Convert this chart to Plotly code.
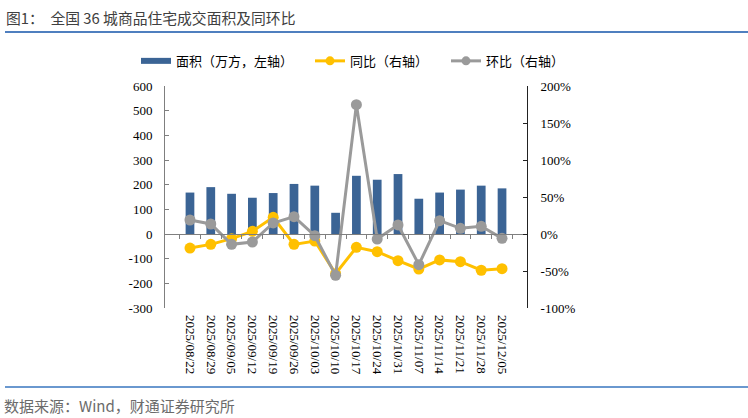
import plotly.graph_objects as go

dates = ["2025/08/22", "2025/08/29", "2025/09/05", "2025/09/12", "2025/09/19", "2025/09/26",
         "2025/10/03", "2025/10/10", "2025/10/17", "2025/10/24", "2025/10/31", "2025/11/07",
         "2025/11/14", "2025/11/21", "2025/11/28", "2025/12/05"]
area = [168, 190, 163, 147, 166, 203, 196, 86, 236, 220, 243, 143, 168, 180, 196, 185]
yoy = [-0.19, -0.14, -0.063, 0.036, 0.225, -0.14, -0.095, -0.536, -0.18, -0.239,
       -0.36, -0.473, -0.35, -0.374, -0.49, -0.468]
mom = [0.189, 0.135, -0.14, -0.108, 0.149, 0.234, -0.023, -0.559, 1.748, -0.068,
       0.122, -0.414, 0.18, 0.077, 0.104, -0.059]

left_ticks = [-300, -200, -100, 0, 100, 200, 300, 400, 500, 600]
left_labels = ["-300", "-200", "-100", "0", "100", "200", "300", "400", "500", "600"]
right_ticks = [-1.0, -0.5, 0.0, 0.5, 1.0, 1.5, 2.0]
right_labels = ["-100%", "-50%", "0%", "50%", "100%", "150%", "200%"]

BLUE = "#3b6495"
GOLD = "#FFC000"
GREY = "#9a9a9a"
SERIF = "Liberation Serif"
CJK = "Noto Sans CJK SC"

fig = go.Figure()
fig.add_trace(go.Bar(x=dates, y=area, marker=dict(color=BLUE, line=dict(width=0)),
                     width=0.42, showlegend=False, yaxis="y"))
fig.add_trace(go.Scatter(x=dates, y=yoy, mode="lines+markers", yaxis="y2",
                         line=dict(color=GOLD, width=3), marker=dict(color=GOLD, size=11),
                         showlegend=False))
fig.add_trace(go.Scatter(x=dates, y=mom, mode="lines+markers", yaxis="y2",
                         line=dict(color=GREY, width=3), marker=dict(color=GREY, size=11),
                         showlegend=False))
# legend proxies
fig.add_trace(go.Scatter(x=[None], y=[None], mode="lines", name="面积（万方，左轴）",
                         line=dict(color=BLUE, width=6), legend="legend"))
fig.add_trace(go.Scatter(x=[None], y=[None], mode="lines+markers", name="同比（右轴）",
                         line=dict(color=GOLD, width=3), marker=dict(color=GOLD, size=9),
                         legend="legend2"))
fig.add_trace(go.Scatter(x=[None], y=[None], mode="lines+markers", name="环比（右轴）",
                         line=dict(color=GREY, width=3), marker=dict(color=GREY, size=9),
                         legend="legend3"))
# invisible trace to carry the zero-line category axis
fig.add_trace(go.Scatter(x=dates, y=[None] * len(dates), xaxis="x2", yaxis="y",
                         showlegend=False, hoverinfo="skip"))

W, L = 362, 165
def px_x(p):
    return (p - L) / W

leg_common = dict(orientation="h", xanchor="left", y=1.113, yanchor="middle",
                  font=dict(family=CJK, size=13, color="#000"), itemwidth=30,
                  bgcolor="rgba(0,0,0,0)")

fig.update_layout(
    width=748, height=418,
    margin=dict(l=165, r=221, t=86, b=110),
    paper_bgcolor="white", plot_bgcolor="white",
    font=dict(family=SERIF, size=13, color="#000"),
    xaxis=dict(type="category", showline=False, showgrid=False, zeroline=False,
               ticks="", tickangle=90, tickfont=dict(family=SERIF, size=13),
               ticklabelstandoff=6),
    xaxis2=dict(type="category", matches="x", overlaying="x", anchor="free",
                position=1/3, showline=True, linecolor="#7f7f7f", linewidth=1,
                showgrid=False, zeroline=False, showticklabels=False,
                ticks="outside", tickson="boundaries", ticklen=4, tickcolor="#7f7f7f"),
    yaxis=dict(range=[-300, 600], tickvals=left_ticks, ticktext=left_labels,
               showgrid=False, zeroline=False,
               showline=True, linecolor="#7f7f7f", linewidth=1, ticks="inside",
               ticklen=4, tickcolor="#7f7f7f", ticklabelstandoff=9,
               tickfont=dict(family=SERIF, size=13)),
    yaxis2=dict(range=[-1, 2], tickvals=right_ticks, ticktext=right_labels,
                overlaying="y", side="right", showgrid=False, zeroline=False,
                showline=True, linecolor="#222", linewidth=1, ticks="inside", ticklen=4,
                tickcolor="#222", ticklabelstandoff=10,
                tickfont=dict(family=SERIF, size=13)),
    legend=dict(x=px_x(136), **leg_common),
    legend2=dict(x=px_x(310), **leg_common),
    legend3=dict(x=px_x(446), **leg_common),
    showlegend=True,
)

fig.add_annotation(text="图1：  全国 36 城商品住宅成交面积及同环比", xref="paper", yref="paper",
                   x=px_x(4), xanchor="left", y=1 + (86 - 17) / 222, yanchor="middle",
                   showarrow=False, font=dict(family=CJK, size=14.8, color="#404040"))
fig.add_annotation(text="数据来源：Wind，财通证券研究所", xref="paper", yref="paper",
                   x=px_x(2), xanchor="left", y=-(405 - 308) / 222, yanchor="middle",
                   showarrow=False, font=dict(family=CJK, size=15, color="#6b6b6b"))
fig.add_shape(type="line", xref="paper", yref="paper", x0=px_x(5), x1=px_x(748),
              y0=1 + (86 - 32) / 222, y1=1 + (86 - 32) / 222,
              line=dict(color="#4f7fbf", width=2))
fig.add_shape(type="line", xref="paper", yref="paper", x0=px_x(5), x1=px_x(748),
              y0=-(387 - 308) / 222, y1=-(387 - 308) / 222,
              line=dict(color="#6a98cf", width=2))

fig.write_html("out.html")
